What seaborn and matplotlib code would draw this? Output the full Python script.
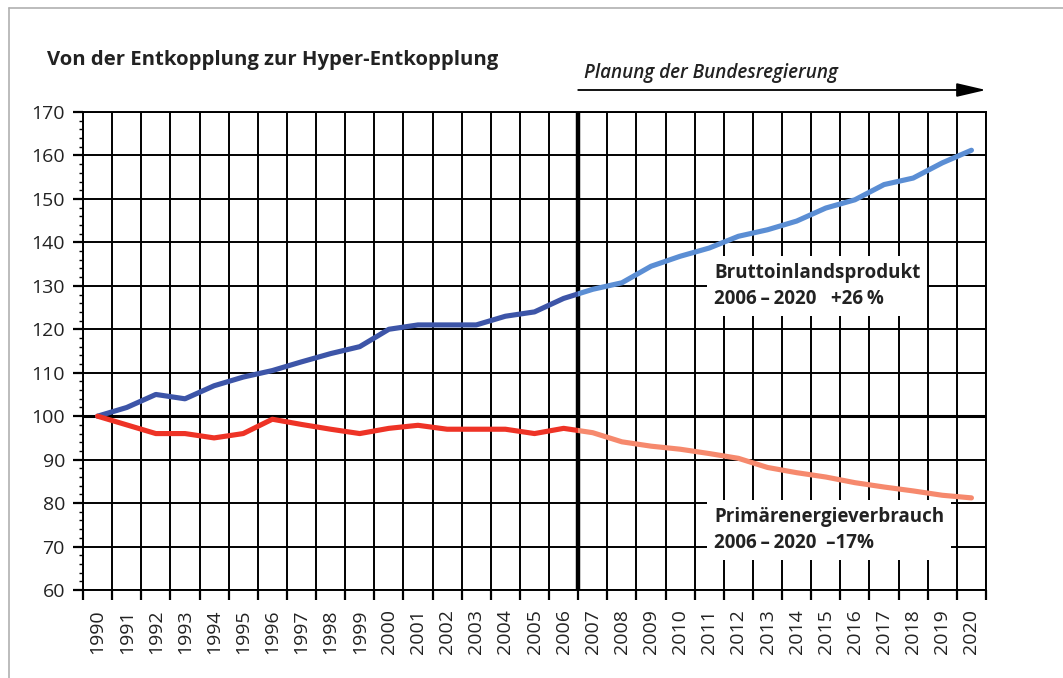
import matplotlib
matplotlib.use("Agg")
import matplotlib.pyplot as plt
from matplotlib.patches import Rectangle
from matplotlib.lines import Line2D
import seaborn as sns
import pandas as pd
import numpy as np

# ---------------- data ----------------
years = list(range(1990, 2021))
bip = [100, 102, 105, 104, 107, 109, 110.5, 112.5, 114.4, 116, 120, 121, 121, 121,
       123, 124, 127.1, 129.2, 130.7, 134.5, 136.8, 138.7, 141.4, 142.9, 144.9,
       147.9, 149.8, 153.3, 154.8, 158.3, 161.2]
pev = [100, 98, 96, 96, 95, 96, 99.3, 98.1, 97, 96, 97.2, 97.9, 97, 97, 97, 96,
       97.2, 96.2, 94.1, 93.1, 92.4, 91.4, 90.3, 88.2, 87, 86, 84.7, 83.7, 82.8,
       81.8, 81.2]
split_year = 2006.5  # boundary between history and planning
y_ticks = list(range(60, 171, 10))

title = "Von der Entkopplung zur Hyper-Entkopplung"
plan_label = "Planung der Bundesregierung"
bip_label = "Bruttoinlandsprodukt\n2006\u2009\u2013\u20092020   +26\u2009%"
pev_label = "Primärenergieverbrauch\n2006\u2009\u2013\u20092020  \u201317%"

df = pd.DataFrame({"Jahr": years, "BIP": bip, "PEV": pev})

# ---------------- style ----------------
sns.set_style("white")
plt.rcParams["font.family"] = ["Open Sans", "DejaVu Sans"]
plt.rcParams["text.color"] = "#222222"

W, H = 1063, 678
fig = plt.figure(figsize=(W / 100, H / 100), dpi=100)
ax = fig.add_axes([83 / W, 1 - 590 / H, (986 - 83) / W, (590 - 112) / H])

xmin, xmax = years[0] - 0.5, years[-1] + 0.5
ax.set_xlim(xmin, xmax)
ax.set_ylim(y_ticks[0], y_ticks[-1])

# grid
boundaries = np.arange(xmin, xmax + 0.01, 1.0)
ax.set_xticks(years)
ax.set_xticklabels([str(y) for y in years], rotation=90, fontsize=14, color="#222222")
ax.set_xticks(boundaries, minor=True)
ax.set_yticks(y_ticks)
ax.set_yticklabels([str(v) for v in y_ticks], fontsize=14, color="#222222")
ax.set_yticks(np.arange(y_ticks[0], y_ticks[-1] + 0.1, 2), minor=True)

ax.tick_params(axis="x", which="major", length=0, pad=14)
ax.tick_params(axis="x", which="minor", length=7, width=1.6, color="black", bottom=True)
ax.tick_params(axis="y", which="major", length=7, width=1.6, color="black", pad=6, left=True)
ax.tick_params(axis="y", which="minor", length=3, width=1.0, color="black", left=True)

for b in boundaries:
    ax.axvline(b, color="black", lw=1.4, zorder=1)
for v in y_ticks:
    ax.axhline(v, color="black", lw=1.4, zorder=1)
ax.axhline(100, color="black", lw=2.2, zorder=1)
ax.axvline(split_year, color="black", lw=3.2, zorder=1.5)

for s in ax.spines.values():
    s.set_color("black")
    s.set_linewidth(1.4)

# ---------------- lines ----------------
past = df[df["Jahr"] <= 2007]
future = df[df["Jahr"] >= 2006]

def clipped(data, col, color, left):
    sns.lineplot(data=data, x="Jahr", y=col, ax=ax, color=color, lw=3.7,
                 solid_capstyle="round", solid_joinstyle="round", zorder=3)
    line = ax.lines[-1]
    if left:
        rect = Rectangle((xmin, y_ticks[0]), split_year - xmin, y_ticks[-1] - y_ticks[0],
                         transform=ax.transData)
    else:
        rect = Rectangle((split_year, y_ticks[0]), xmax - split_year, y_ticks[-1] - y_ticks[0],
                         transform=ax.transData)
    line.set_clip_path(rect)

clipped(past, "BIP", "#3d55a8", True)
clipped(future, "BIP", "#5b8ed4", False)
clipped(past, "PEV", "#ee3326", True)
clipped(future, "PEV", "#f6896d", False)

ax.set_xlabel("")
ax.set_ylabel("")

# ---------------- texts ----------------
fig.text(47 / W, 1 - 60 / H, title, fontsize=14.6, fontweight="bold",
         ha="left", va="center", color="#222222")

ax.text((584 - 83) / (986 - 83), (590 - 73) / (590 - 112), plan_label,
        transform=ax.transAxes, fontsize=13.6, fontstyle="italic", fontweight="semibold",
        ha="left", va="center", color="#222222")

ax.annotate("", xy=(xmax, (590 - 90) / (590 - 112)), xytext=(split_year, (590 - 90) / (590 - 112)),
            xycoords=("data", "axes fraction"), textcoords=("data", "axes fraction"),
            arrowprops=dict(arrowstyle="-|>,head_length=1.5,head_width=0.35",
                            lw=1.3, color="black", shrinkA=0, shrinkB=0,
                            mutation_scale=12),
            annotation_clip=False)

ax.text((714 - 83) / (986 - 83), (590 - 286) / (590 - 112), bip_label,
        transform=ax.transAxes, fontsize=13.5, fontweight="bold", ha="left", va="center",
        linespacing=1.45, color="#222222", zorder=5,
        bbox=dict(boxstyle="square,pad=0.35", facecolor="white", edgecolor="none"))

ax.text((714 - 83) / (986 - 83), (590 - 530) / (590 - 112), pev_label,
        transform=ax.transAxes, fontsize=13.5, fontweight="bold", ha="left", va="center",
        linespacing=1.45, color="#222222", zorder=5,
        bbox=dict(boxstyle="square,pad=0.35", facecolor="white", edgecolor="none"))

# outer light frame
fig.add_artist(Line2D([9 / W, 1], [1 - 8 / H, 1 - 8 / H], color="#b0b0b0", lw=1.2,
                      transform=fig.transFigure))
fig.add_artist(Line2D([9 / W, 9 / W], [0, 1 - 8 / H], color="#b0b0b0", lw=1.2,
                      transform=fig.transFigure))

fig.savefig("out.png", dpi=100)
